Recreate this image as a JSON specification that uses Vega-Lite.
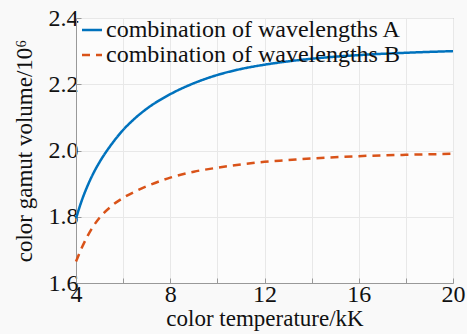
{
  "$schema": "https://vega.github.io/schema/vega-lite/v6.json",
  "width": 377,
  "height": 265,
  "autosize": "none",
  "padding": {"left": 76, "top": 18, "right": 14, "bottom": 51},
  "background": "#f9f9f9",
  "config": {
    "font": "Liberation Serif",
    "view": {"stroke": "#999999", "strokeWidth": 1, "fill": "#fcfcfc"},
    "axis": {
      "labelFont": "Liberation Serif",
      "titleFont": "Liberation Serif",
      "labelFontSize": 24,
      "titleFontSize": 23,
      "titleFontWeight": "normal",
      "labelColor": "#111111",
      "titleColor": "#111111",
      "domainColor": "#999999",
      "tickColor": "#999999",
      "gridColor": "#e8e8e8",
      "gridWidth": 1,
      "tickSize": -5
    },
    "legend": {
      "labelFont": "Liberation Serif",
      "labelFontSize": 24,
      "labelLimit": 0
    }
  },
  "data": {
    "values": [
      {"T": 4, "v": 1.795, "s": "combination of wavelengths A"},
      {"T": 4.25, "v": 1.85, "s": "combination of wavelengths A"},
      {"T": 4.5, "v": 1.895, "s": "combination of wavelengths A"},
      {"T": 4.75, "v": 1.933, "s": "combination of wavelengths A"},
      {"T": 5, "v": 1.965, "s": "combination of wavelengths A"},
      {"T": 5.5, "v": 2.018, "s": "combination of wavelengths A"},
      {"T": 6, "v": 2.062, "s": "combination of wavelengths A"},
      {"T": 6.5, "v": 2.097, "s": "combination of wavelengths A"},
      {"T": 7, "v": 2.126, "s": "combination of wavelengths A"},
      {"T": 8, "v": 2.17, "s": "combination of wavelengths A"},
      {"T": 9, "v": 2.203, "s": "combination of wavelengths A"},
      {"T": 10, "v": 2.228, "s": "combination of wavelengths A"},
      {"T": 11, "v": 2.246, "s": "combination of wavelengths A"},
      {"T": 12, "v": 2.259, "s": "combination of wavelengths A"},
      {"T": 13, "v": 2.269, "s": "combination of wavelengths A"},
      {"T": 14, "v": 2.277, "s": "combination of wavelengths A"},
      {"T": 16, "v": 2.288, "s": "combination of wavelengths A"},
      {"T": 18, "v": 2.295, "s": "combination of wavelengths A"},
      {"T": 20, "v": 2.3, "s": "combination of wavelengths A"},
      {"T": 4, "v": 1.665, "s": "combination of wavelengths B"},
      {"T": 4.25, "v": 1.707, "s": "combination of wavelengths B"},
      {"T": 4.5, "v": 1.743, "s": "combination of wavelengths B"},
      {"T": 4.75, "v": 1.773, "s": "combination of wavelengths B"},
      {"T": 5, "v": 1.797, "s": "combination of wavelengths B"},
      {"T": 5.5, "v": 1.832, "s": "combination of wavelengths B"},
      {"T": 6, "v": 1.857, "s": "combination of wavelengths B"},
      {"T": 6.5, "v": 1.876, "s": "combination of wavelengths B"},
      {"T": 7, "v": 1.892, "s": "combination of wavelengths B"},
      {"T": 8, "v": 1.918, "s": "combination of wavelengths B"},
      {"T": 9, "v": 1.936, "s": "combination of wavelengths B"},
      {"T": 10, "v": 1.948, "s": "combination of wavelengths B"},
      {"T": 11, "v": 1.958, "s": "combination of wavelengths B"},
      {"T": 12, "v": 1.966, "s": "combination of wavelengths B"},
      {"T": 13, "v": 1.971, "s": "combination of wavelengths B"},
      {"T": 14, "v": 1.976, "s": "combination of wavelengths B"},
      {"T": 16, "v": 1.983, "s": "combination of wavelengths B"},
      {"T": 18, "v": 1.987, "s": "combination of wavelengths B"},
      {"T": 20, "v": 1.99, "s": "combination of wavelengths B"}
    ]
  },
  "mark": {"type": "line", "interpolate": "monotone", "strokeWidth": 2.5},
  "encoding": {
    "x": {
      "field": "T", "type": "quantitative",
      "scale": {"domain": [4, 20], "nice": false},
      "axis": {
        "title": "color temperature/kK",
        "values": [4, 6, 8, 10, 12, 14, 16, 18, 20],
        "labelExpr": "datum.value % 4 == 0 ? datum.label : ''",
        "labelFont": "Liberation Serif",
        "labelPadding": 4,
        "titlePadding": 1,
        "labelFlush": false
      }
    },
    "y": {
      "field": "v", "type": "quantitative",
      "scale": {"domain": [1.6, 2.4], "nice": false, "zero": false},
      "axis": {
        "title": "color gamut volume/10⁶",
        "values": [1.6, 1.8, 2.0, 2.2, 2.4],
        "format": ".1f",
        "labelFont": "Liberation Serif",
        "labelPadding": 3,
        "titlePadding": 12,
        "labelFlush": false
      }
    },
    "color": {
      "field": "s", "type": "nominal",
      "scale": {
        "domain": ["combination of wavelengths A", "combination of wavelengths B"],
        "range": ["#0072BD", "#D95319"]
      },
      "legend": {
        "title": null,
        "orient": "none",
        "legendX": 4,
        "legendY": 0,
        "symbolType": "stroke",
        "symbolSize": 400,
        "symbolStrokeWidth": 2.5,
        "labelFont": "Liberation Serif",
        "labelFontSize": 24,
        "labelLimit": 0,
        "labelColor": "#111111",
        "labelOffset": 2,
        "rowPadding": 1,
        "padding": 0
      }
    },
    "strokeDash": {
      "field": "s", "type": "nominal",
      "scale": {
        "domain": ["combination of wavelengths A", "combination of wavelengths B"],
        "range": [[1, 0], [8, 6]]
      },
      "legend": null
    }
  }
}
